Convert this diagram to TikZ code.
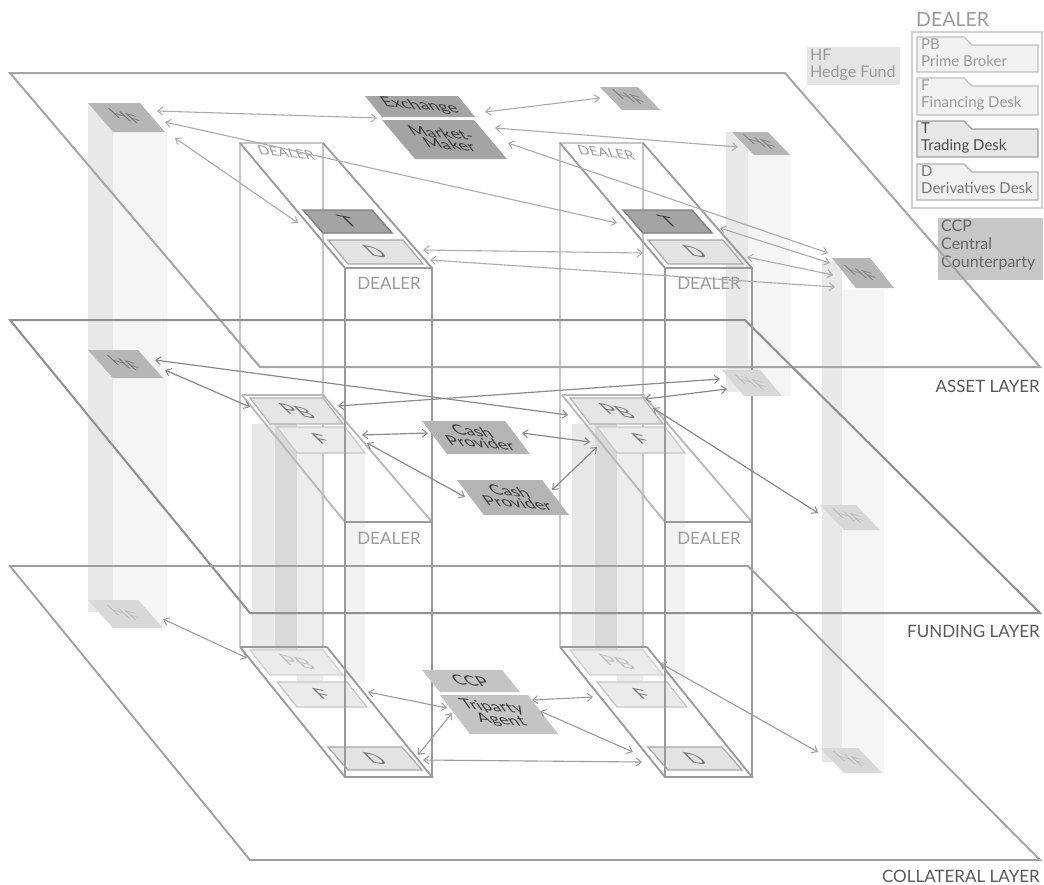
\documentclass[tikz,border=0pt]{standalone}
\usepackage{fontspec}
\setmainfont{Lato}
\usetikzlibrary{arrows.meta}
\definecolor{layA}{HTML}{A6A6A6}
\definecolor{layF}{HTML}{8F8F8F}
\definecolor{layC}{HTML}{9E9E9E}
\definecolor{dfr}{HTML}{9A9A9A}
\definecolor{dbk}{HTML}{C6C6C6}
\definecolor{arA}{HTML}{ABABAB}
\definecolor{arF}{HTML}{8A8A8A}
\definecolor{arC}{HTML}{9C9C9C}
\definecolor{darkbox}{HTML}{A4A4A4}
\definecolor{hfbox}{HTML}{B6B6B6}
\definecolor{hffade}{HTML}{D8D8D8}
\definecolor{cashbox}{HTML}{B4B4B4}
\definecolor{ccpbox}{HTML}{C4C4C4}
\definecolor{txtdark}{HTML}{3C3C3C}
\definecolor{txtmid}{HTML}{777777}
\definecolor{txtlight}{HTML}{9A9A9A}
\definecolor{txtfade}{HTML}{BDBDBD}
\newcommand\plg[6]{\path[#6] (#1,#2) -- ++(#3,0) -- ++(#5,#4) -- ++(-#3,0) -- cycle;}
\newcommand\arrw[4]{\coordinate (#1s) at (#2); \coordinate (#1e) at (#3); \draw[#4] (#1s) -- (#1e);}
\newcommand\dealerunit[1]{%
  \fill[black!9] (252,424) rectangle (275,650);
  \fill[black!15] (275,424) rectangle (297,650);
  \fill[black!7] (297,453) rectangle (323,682);
  \fill[black!5] (345,453) rectangle (365,682);
  \draw[dback] (240,647) -- (240,143) -- (323,143) -- (323,647);
  \draw[dslab] (240,143) -- (345,268) (323,143) -- (432,268);
  \draw[dslabl] (242,395) -- (323,395) (242,395) -- (345,522) (323,395) -- (432,522);
  \draw[dslab] (240,647) -- (327,647) (240,647) -- (345,777) (327,647) -- (432,777);
  \plg{303}{210}{69}{23}{20}{tbox}
  \node[btxt,text=txtdark] (#1T) at (348,222) {T};
  \plg{328}{240}{75}{24}{20}{dbox}
  \node[btxt,text=txtmid] (#1Da) at (375,252) {D};
  \plg{250}{398}{73}{26}{20}{pbox}
  \node[btxt,text=txtmid] (#1PBf) at (297,411) {PB};
  \plg{277}{427}{68}{26}{20}{fbox}
  \node[btxt,text=txtmid] (#1Ff) at (321,440) {F};
  \plg{250}{650}{73}{25}{20}{pboxf}
  \node[btxt,text=txtfade] (#1PBc) at (297,662) {PB};
  \plg{277}{682}{70}{25}{20}{fbox}
  \node[btxt,text=txtmid] (#1Fc) at (322,695) {F};
  \plg{328}{747}{74}{23}{20}{dbox}
  \node[btxt,text=txtmid] (#1Dc) at (375,759) {D};
  \draw[dfront] (345,268) rectangle (432,777);
  \draw[dfront] (345,522) -- (432,522);
  \node[dlab] (#1la) at (389,283) {DEALER};
  \node[dlab] (#1lf) at (389,538) {DEALER};
  \node[dlabs] (#1lb) at (286,153) {DEALER};
}
\begin{document}
\begin{tikzpicture}[x=1pt,y=-1pt,
  dback/.style={draw=dbk,line width=1.2pt},
  dslab/.style={draw=dfr,line width=1.8pt},
  dslabl/.style={draw=black!28,line width=1.8pt},
  dfront/.style={draw=dfr,line width=2pt},
  tbox/.style={fill=darkbox,draw=black!50,line width=1.4pt},
  dbox/.style={fill=black!11,draw=black!35,line width=1.2pt},
  pbox/.style={fill=black!10,draw=black!30,line width=1.2pt},
  pboxf/.style={fill=black!8,draw=black!18,line width=1.2pt},
  fbox/.style={fill=black!8,draw=black!22,line width=1.2pt},
  btxt/.style={inner sep=0pt,font=\fontsize{25}{25}\selectfont,cm={1,-0.2,-0.6,0.6,(0,0)}},
  ptxt/.style={inner sep=0pt,align=center,text=txtdark,font=\fontsize{18}{15}\selectfont,cm={1,-0.08,-0.55,0.78,(0,0)}},
  hftxt/.style={inner sep=0pt,font=\fontsize{23}{23}\selectfont,cm={1,-0.3,-0.65,0.6,(0,0)}},
  dlab/.style={inner sep=0pt,text=txtlight,font=\fontsize{17}{17}\selectfont},
  dlabs/.style={inner sep=0pt,text=txtlight,font=\fontsize{15}{15}\selectfont,cm={1,-0.1,-0.35,0.85,(0,0)}},
  laylab/.style={inner sep=0pt,anchor=east,text=black!65,font=\fontsize{17}{17}\selectfont},
  legtxt/.style={inner sep=0pt,anchor=north west,align=left,font=\fontsize{15}{16.5}\selectfont},
  tipA/.tip={Straight Barb[length=5pt,width=8pt,line width=1pt]},
  arrA/.style={draw=arA,line width=1.1pt,tipA-tipA},
  arrF/.style={draw=arF,line width=1.2pt,tipA-tipA},
  arrC/.style={draw=arC,line width=1.1pt,tipA-tipA}]
\useasboundingbox (0,0) rectangle (1044,884);
\fill[white] (0,0) rectangle (1044,884);

% ---------- legend ----------
\node[inner sep=0pt,anchor=west,text=txtlight,font=\fontsize{19.5}{19.5}\selectfont] (legdealer) at (916,20) {DEALER};
\draw[draw=black!18,line width=1.5pt] (912,32) rectangle (1042,208);
\path[fill=black!5,draw=black!25,line width=1.2pt] (917,72) -- (917,37) -- (964,37) -- (972,45) -- (1038,45) -- (1038,72) -- cycle;
\node[legtxt,text=txtlight] (legpb) at (921,39) {PB\\Prime Broker};
\path[fill=black!5,draw=black!25,line width=1.2pt] (917,115) -- (917,78) -- (964,78) -- (972,86) -- (1038,86) -- (1038,115) -- cycle;
\node[legtxt,text=txtlight] (legf) at (921,80) {F\\Financing Desk};
\path[fill=black!9,draw=black!38,line width=1.2pt] (917,157) -- (917,121) -- (964,121) -- (972,129) -- (1038,129) -- (1038,157) -- cycle;
\node[legtxt,text=black!70] (legt) at (921,123) {T\\Trading Desk};
\path[fill=black!6,draw=black!30,line width=1.2pt] (917,200) -- (917,164) -- (964,164) -- (972,172) -- (1038,172) -- (1038,200) -- cycle;
\node[legtxt,text=txtmid] (legd) at (921,166) {D\\Derivatives Desk};
\fill[black!10] (807,47) rectangle (900,85);
\node[legtxt,text=txtlight,font=\fontsize{16}{16.5}\selectfont] (leghf) at (810,49) {HF\\Hedge Fund};
\fill[black!22] (938,218) rectangle (1043,280);
\node[legtxt,text=black!60,font=\fontsize{16}{18}\selectfont] (legccp) at (941,220) {CCP\\Central\\Counterparty};

% ---------- HF columns ----------
\fill[black!9] (88,103) rectangle (113,612);
\fill[black!4] (113,132) rectangle (167,628);
\fill[black!9] (726,132) rectangle (748,392);
\fill[black!4] (748,150) rectangle (790,396);
\fill[black!9] (822,262) rectangle (842,762);
\fill[black!4] (842,290) rectangle (884,773);

% ---------- dealer shading + structure ----------
\dealerunit{L}
\begin{scope}[xshift=320pt]
\dealerunit{R}
\end{scope}

% ---------- layers ----------
\draw[draw=layA,line width=2pt] (10,73) -- (785,73) -- (1040,367) -- (260,367) -- cycle;
\draw[draw=layF,line width=2pt] (10,320) -- (745,320) -- (1040,613) -- (250,613) -- cycle;
\draw[draw=layC,line width=1.8pt] (10,566) -- (748,566) -- (1040,860) -- (250,860) -- cycle;
\node[laylab] (asset) at (1040,386) {ASSET LAYER};
\node[laylab] (funding) at (1040,631) {FUNDING LAYER};
\node[laylab] (collat) at (1040,876) {COLLATERAL LAYER};

% ---------- redraw dealer front faces over layers ----------
\draw[dfront] (345,268) rectangle (432,777);
\draw[dfront] (665,268) rectangle (752,777);

% ---------- HF boxes ----------
\plg{88}{103}{52}{29}{25}{fill=hfbox}
\node[hftxt,text=black!55] (hfA1) at (126,117) {HF};
\plg{88}{350}{50}{28}{25}{fill=hfbox}
\node[hftxt,text=black!55] (hfF1) at (125,364) {HF};
\plg{88}{600}{50}{28}{25}{fill=hffade}
\node[hftxt,text=txtfade] (hfC1) at (125,614) {HF};
\plg{600}{87}{38}{23}{22}{fill=hfbox}
\node[hftxt,text=black!50] (hfA2) at (630,98) {HF};
\plg{732}{132}{36}{23}{22}{fill=hfbox}
\node[hftxt,text=black!50] (hfA3) at (761,143) {HF};
\plg{722}{370}{38}{26}{22}{fill=hffade}
\node[hftxt,text=txtfade] (hfF3) at (752,383) {HF};
\plg{832}{258}{38}{30}{24}{fill=hfbox}
\node[hftxt,text=black!50] (hfA4) at (862,274) {HF};
\plg{820}{505}{36}{25}{24}{fill=hffade}
\node[hftxt,text=txtfade] (hfF4) at (850,517) {HF};
\plg{820}{748}{38}{25}{24}{fill=hffade}
\node[hftxt,text=txtfade] (hfC4) at (851,760) {HF};

% ---------- other actors ----------
\plg{365}{96}{93}{21}{17}{fill=darkbox}
\node[ptxt] (exch) at (420,106) {Exchange};
\plg{382}{120}{92}{39}{33}{fill=darkbox}
\node[ptxt] (mm) at (445,139) {Market-\\Maker};
\plg{422}{421}{83}{33}{25}{fill=cashbox}
\node[ptxt] (cash1) at (476,437) {Cash\\Provider};
\plg{457}{480}{85}{35}{27}{fill=cashbox}
\node[ptxt] (cash2) at (513,497) {Cash\\Provider};
\plg{422}{670}{80}{22}{18}{fill=ccpbox}
\node[ptxt] (ccp) at (470,681) {CCP};
\plg{440}{695}{88}{39}{30}{fill=ccpbox}
\node[ptxt] (tri) at (497,714) {Triparty\\Agent};

% ---------- arrows: asset layer ----------
\arrw{a1}{157,111}{377,118}{arrA}
\arrw{a2}{165,122}{617,223}{arrA}
\arrw{a3}{175,138}{298,223}{arrA}
\arrw{a4}{485,112}{600,98}{arrA}
\arrw{a5}{495,128}{738,147}{arrA}
\arrw{a6}{508,143}{828,253}{arrA}
\arrw{a7}{720,228}{830,263}{arrA}
\arrw{a8}{747,257}{833,275}{arrA}
\arrw{a9}{423,250}{643,253}{arrA}
\arrw{a10}{430,260}{835,287}{arrA}
% ---------- arrows: funding layer ----------
\arrw{f1}{155,360}{568,415}{arrF}
\arrw{f2}{165,370}{250,407}{arrF}
\arrw{f3}{338,406}{720,379}{arrF}
\arrw{f4}{645,399}{727,389}{arrF}
\arrw{f5}{362,435}{428,433}{arrF}
\arrw{f6}{367,443}{465,497}{arrF}
\arrw{f7}{522,433}{590,442}{arrF}
\arrw{f8}{552,490}{597,447}{arrF}
\arrw{f9}{653,408}{818,513}{arrF}
% ---------- arrows: collateral layer ----------
\arrw{c1}{163,619}{247,658}{arrC}
\arrw{c2}{368,692}{447,708}{arrC}
\arrw{c3}{418,755}{452,713}{arrC}
\arrw{c4}{423,760}{642,762}{arrC}
\arrw{c5}{532,700}{593,697}{arrC}
\arrw{c6}{540,711}{633,752}{arrC}
\arrw{c7}{660,663}{818,752}{arrC}
\end{tikzpicture}
\end{document}
